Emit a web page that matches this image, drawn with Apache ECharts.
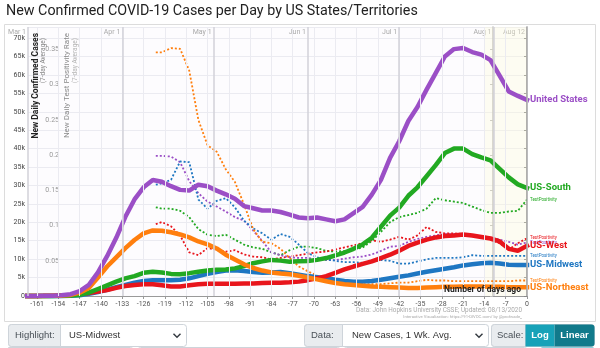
<!DOCTYPE html>
<html><head><meta charset="utf-8">
<script src="https://cdn.jsdelivr.net/npm/echarts@6/dist/echarts.min.js"></script>
<style>html,body{margin:0;padding:0;background:#fff;}#c{width:600px;height:348px;}</style>
</head><body><div id="c"></div>
<script>
// ---- data (days relative to Aug 12, 2020; cases in thousands) ----
const days = [-165,-162,-159,-156,-153,-150,-147,-144,-141,-138,-135,-132,-129,-126,-123,-120,-117,-114,-111,-108,-105,-102,-99,-96,-93,-90,-87,-84,-81,-78,-75,-72,-69,-66,-63,-60,-57,-54,-51,-48,-45,-42,-39,-36,-33,-30,-27,-24,-21,-18,-15,-12,-9,-6,-3,0];
const usCases = [0,0,0.05,0.1,0.2,0.5,1.3,3.0,6.4,10.8,15.8,21.5,26.2,29.5,31.5,31.0,29.8,28.8,28.6,30.2,29.8,28.6,27.6,26.4,24.4,23.8,23.2,23.2,22.8,22.1,21.3,21.1,21.3,20.8,20.3,20.8,22.5,24.2,27.5,31.5,37.5,42,47.5,51.3,56,60.5,65,67,67.3,66.2,65.5,64,59.8,55.5,54.3,53.2];
const southCases = [0,0,0,0,0.05,0.1,0.3,0.9,1.9,2.9,3.9,4.8,5.4,6.3,6.6,6.4,6.0,5.9,6.2,6.6,6.9,7.1,7.2,7.5,8.1,8.9,9.4,9.8,9.6,9.3,9.4,9.5,9.8,10.3,11.0,11.8,12.8,14.0,15.8,18.8,21.8,24.0,27.2,29.5,32.5,35.5,38.8,40.0,40.0,38.5,37.6,36.8,34.5,32.2,30.3,29.3];
const westCases = [0,0.02,0.05,0.1,0.2,0.3,0.5,0.8,1.2,1.6,2.2,2.7,3.0,3.2,3.2,2.9,2.6,2.6,2.9,3.2,3.3,3.3,3.3,3.3,3.4,3.4,3.5,3.6,3.6,3.7,3.9,4.3,4.8,5.4,6.3,7.2,8.0,8.7,9.4,10.3,11.2,12.3,13.6,14.5,15.3,15.9,16.3,16.4,16.7,16.4,16.0,15.6,14.8,12.8,12.3,13.6];
const midwestCases = [0,0,0,0,0,0.05,0.2,0.6,1.1,1.7,2.4,3.0,3.6,4.1,4.3,4.3,4.3,4.4,4.8,5.4,6.0,6.5,6.9,7.0,6.8,6.5,6.3,6.4,6.5,6.2,5.8,5.4,5.1,4.8,4.4,4.1,3.9,3.9,4.1,4.4,4.8,5.2,5.6,6.1,6.6,7.0,7.4,7.8,8.3,8.6,8.9,9.0,8.8,8.5,8.4,8.4];
const neCases = [0,0,0.02,0.05,0.1,0.3,0.9,2.2,5.0,8.0,10.5,13.0,15.2,17.0,17.8,17.7,17.3,16.7,15.9,14.8,14.0,12.9,11.2,9.9,8.6,7.6,6.9,6.4,6.1,5.9,5.5,5.0,4.5,4.0,3.5,3.2,3.0,2.8,2.6,2.5,2.4,2.3,2.2,2.2,2.3,2.4,2.5,2.5,2.6,2.6,2.6,2.5,2.5,2.4,2.4,2.4];

const posDays = [-122,-120,-117,-114,-111,-108,-105,-102,-99,-96,-93,-90,-87,-84,-81,-78,-75,-72,-69,-66,-63,-60,-57,-54,-51,-48,-45,-42,-39,-36,-33,-30,-27,-24,-21,-18,-15,-12,-9,-6,-3,0];
const usPos = [0.199,0.199,0.198,0.19,0.163,0.146,0.134,0.127,0.12,0.112,0.107,0.093,0.078,0.062,0.058,0.055,0.054,0.054,0.052,0.051,0.051,0.053,0.055,0.056,0.059,0.064,0.07,0.071,0.077,0.081,0.084,0.086,0.088,0.088,0.087,0.086,0.085,0.083,0.08,0.077,0.073,0.076];
const southPos = [0.126,0.124,0.124,0.121,0.112,0.095,0.087,0.085,0.087,0.08,0.073,0.069,0.067,0.062,0.058,0.065,0.07,0.07,0.068,0.064,0.063,0.064,0.066,0.069,0.078,0.091,0.105,0.112,0.115,0.118,0.124,0.139,0.136,0.134,0.132,0.127,0.122,0.118,0.118,0.12,0.121,0.137];
const midwestPos = [0.158,0.16,0.165,0.191,0.19,0.137,0.124,0.135,0.139,0.126,0.107,0.096,0.089,0.08,0.088,0.084,0.073,0.061,0.055,0.052,0.05,0.048,0.048,0.047,0.049,0.051,0.05,0.046,0.046,0.049,0.052,0.054,0.054,0.054,0.055,0.058,0.057,0.057,0.057,0.057,0.057,0.057];
const westPos = [0.102,0.105,0.099,0.086,0.062,0.058,0.068,0.066,0.063,0.065,0.059,0.056,0.055,0.052,0.054,0.056,0.058,0.06,0.062,0.063,0.066,0.069,0.072,0.075,0.079,0.077,0.08,0.084,0.08,0.086,0.098,0.091,0.089,0.089,0.088,0.086,0.084,0.08,0.075,0.066,0.075,0.082];
const nePos = [0.346,0.346,0.352,0.351,0.32,0.25,0.214,0.205,0.18,0.162,0.13,0.095,0.077,0.075,0.067,0.054,0.042,0.035,0.029,0.026,0.022,0.019,0.018,0.017,0.017,0.017,0.018,0.019,0.019,0.021,0.023,0.022,0.022,0.021,0.021,0.021,0.021,0.021,0.021,0.021,0.022,0.022];

const xTicks = [-161,-154,-147,-140,-133,-126,-119,-112,-105,-98,-91,-84,-77,-70,-63,-56,-49,-42,-35,-28,-21,-14,-7,0];
const monthDays = [-164,-133,-103,-72,-42,-11,0];
const monthNames = ['Mar 1','Apr 1','May 1','Jun 1','Jul 1','Aug 1','Aug 12'];

// ---- chart ----
const FONT = 'Roboto, "Open Sans", sans-serif';
const chart = echarts.init(document.getElementById('c'), null, {renderer: 'canvas'});
const C = {us:'#9b4fc6', south:'#22a922', west:'#e8151c', midwest:'#1f77c2', ne:'#ff7f0e'};

function caseSeries(name, vals, color) {
  return {
    name: name, type: 'line', xAxisIndex: 0, yAxisIndex: 0, z: 4, clip: false,
    data: days.map((d, i) => [d, vals[i]]),
    showSymbol: false, symbol: 'none',
    lineStyle: {color: color, width: 4.5, cap: 'square', join: 'bevel'},
    itemStyle: {color: color},
    endLabel: {show: true, formatter: name, color: color, fontSize: 9.5, fontWeight: 'bold', fontFamily: FONT, distance: 3}
  };
}
function posSeries(name, vals, color) {
  return {
    name: name + ' TP', type: 'line', xAxisIndex: 0, yAxisIndex: 1, z: 3,
    data: posDays.map((d, i) => [d, vals[i]]),
    showSymbol: false, symbol: 'none',
    lineStyle: {color: color, width: 1.8, type: [2, 2]},
    itemStyle: {color: color},
    endLabel: {show: true, formatter: 'TestPositivity', color: color, fontSize: 4.5, fontFamily: FONT, distance: 3}
  };
}

function rect(x, y, w, h, fill, stroke, r) {
  return {type: 'rect', z: 100, shape: {x: x, y: y, width: w, height: h, r: r || 0}, style: {fill: fill, stroke: stroke || null, lineWidth: 1}};
}
function txt(x, y, text, size, fill, opts) {
  return Object.assign({type: 'text', z: 101, x: x, y: y,
    style: Object.assign({text: text, fontSize: size, fill: fill, fontFamily: FONT, verticalAlign: 'middle', align: 'left'}, (opts && opts.style) || {})},
    (opts && opts.el) || {});
}
function chevron(cx, cy) {
  return {type: 'polyline', z: 101, shape: {points: [[cx - 3.5, cy - 1.8], [cx, cy + 1.8], [cx + 3.5, cy - 1.8]]}, style: {stroke: '#343a40', lineWidth: 1.4, fill: null}};
}
const CF = '"Liberation Sans", Arial, sans-serif';

const graphics = [
  {type: 'rect', z: -10, shape: {x: 4.5, y: 24.5, width: 591, height: 297}, style: {fill: null, stroke: '#dcdcdc', lineWidth: 1}},
  txt(6, 11.5, 'New Confirmed COVID-19 Cases per Day by US States/Territories', 14.3, '#222'),
  // axis titles (rotated)
  {type: 'text', z: 101, x: 31, y: 33, rotation: Math.PI / 2, style: {text: 'New Daily Confirmed Cases', fontSize: 8.5, fontWeight: 'bold', fill: '#222', fontFamily: FONT, align: 'right', verticalAlign: 'top'}},
  {type: 'text', z: 101, x: 40, y: 38, rotation: Math.PI / 2, style: {text: '(7-day Average)', fontSize: 6.5, fill: '#888', fontFamily: FONT, align: 'right', verticalAlign: 'top'}},
  {type: 'text', z: 101, x: 63, y: 33, rotation: Math.PI / 2, style: {text: 'New Daily Test Positivity Rate', fontSize: 8, fill: '#8a8a8a', fontFamily: FONT, align: 'right', verticalAlign: 'top'}},
  {type: 'text', z: 101, x: 72, y: 38, rotation: Math.PI / 2, style: {text: '(7-day Average)', fontSize: 6.5, fill: '#b5b5b5', fontFamily: FONT, align: 'right', verticalAlign: 'top'}},
  txt(521, 290, 'Number of days ago', 8.5, '#222', {style: {align: 'right', fontWeight: 'bold'}}),
  txt(522, 310, 'Data: John Hopkins University CSSE; Updated: 08/13/2020', 6.4, '#aaa', {style: {align: 'right'}}),
  txt(522, 316.5, 'Interactive Visualization: https://91-DIVOC.com/ by @profwade_', 4.2, '#aaa', {style: {align: 'right'}}),
  // controls row
  rect(8.5, 324.5, 178, 22, '#fff', '#ced4da', 3),
  rect(8.5, 324.5, 52, 22, '#e9ecef', '#ced4da', [3, 0, 0, 3]),
  txt(15, 335.5, 'Highlight:', 9.5, '#495057', {style: {fontFamily: CF}}),
  txt(69, 335.5, 'US-Midwest', 9.5, '#333', {style: {fontFamily: CF}}),
  chevron(177, 335.5),
  rect(304.5, 324.5, 184, 22, '#fff', '#ced4da', 3),
  rect(304.5, 324.5, 38, 22, '#e9ecef', '#ced4da', [3, 0, 0, 3]),
  txt(311, 335.5, 'Data:', 9.5, '#495057', {style: {fontFamily: CF}}),
  txt(352, 335.5, 'New Cases, 1 Wk. Avg.', 9.5, '#333', {style: {fontFamily: CF}}),
  chevron(479, 335.5),
  rect(491.5, 324.5, 103, 22, '#fff', '#ced4da', 3),
  rect(491.5, 324.5, 34, 22, '#e9ecef', '#ced4da', [3, 0, 0, 3]),
  txt(497, 335.5, 'Scale:', 9.5, '#495057', {style: {fontFamily: CF}}),
  rect(525.5, 324.5, 29, 22, '#17a2b8', null, 0),
  rect(554.5, 324.5, 40, 22, '#117a8b', null, [0, 3, 3, 0]),
  txt(540, 335.5, 'Log', 9.5, '#fff', {style: {fontFamily: CF, align: 'center', fontWeight: 'bold'}}),
  txt(574.5, 335.5, 'Linear', 9.5, '#fff', {style: {fontFamily: CF, align: 'center', fontWeight: 'bold'}}),
  // next row (partially visible)
  rect(8.5, 347.5, 125, 12, '#fff', '#ced4da', 3),
  rect(8.5, 347.5, 38, 12, '#e9ecef', '#ced4da', 0),
  rect(137.5, 347.5, 203, 12, '#fff', '#ced4da', 3),
  rect(343.5, 347.5, 184, 12, '#fff', '#ced4da', 3),
  rect(539.5, 347.5, 56, 12, '#17a2b8', null, 3)
];

const option = {
  animation: false,
  backgroundColor: '#fff',
  textStyle: {fontFamily: FONT},
  grid: {left: 28, right: 73, top: 27, bottom: 52, show: true, backgroundColor: '#fdfcfe', borderWidth: 0},
  xAxis: [
    {type: 'value', min: -164, max: 0, position: 'bottom',
     axisLine: {show: true, onZero: false, lineStyle: {color: '#999'}},
     axisTick: {show: true, customValues: xTicks, length: 3, lineStyle: {color: '#999'}},
     axisLabel: {customValues: xTicks, fontSize: 7, color: '#555', margin: 5},
     splitLine: {show: false}},
    {type: 'value', min: -164, max: 0, position: 'top',
     axisLine: {show: false}, axisTick: {show: false}, splitLine: {show: false},
     axisLabel: {inside: true, customValues: monthDays, formatter: v => monthNames[monthDays.indexOf(v)],
                 fontSize: 7, color: '#aaa', align: 'right', margin: 2, padding: [0, 2, 0, 0]}}
  ],
  yAxis: [
    {type: 'value', min: 0, max: 73, interval: 5, position: 'left',
     axisLine: {show: true, lineStyle: {color: '#888', width: 1.5}},
     axisTick: {show: true, length: 3, lineStyle: {color: '#888'}},
     axisLabel: {fontSize: 7, color: '#444', showMaxLabel: false, margin: 3, formatter: v => v === 0 ? '0' : v + 'k'},
     splitLine: {show: true, lineStyle: {color: '#ebebf1', width: 1}}},
    {type: 'value', min: 0, max: 0.382, interval: 0.05, position: 'left', offset: -34,
     axisLine: {show: true, lineStyle: {color: '#b8b8b8', width: 1.5}},
     axisTick: {show: true, length: 3, lineStyle: {color: '#bbb'}},
     axisLabel: {fontSize: 7, color: '#999', showMaxLabel: false, margin: 3, formatter: v => String(+v.toFixed(2))},
     splitLine: {show: false}}
  ],
  series: [
    {type: 'line', name: 'weekGrid', z: 1, silent: true, data: [[0, null]], symbol: 'none',
     markLine: {silent: true, symbol: 'none', label: {show: false}, animation: false,
       lineStyle: {color: '#ebebf1', width: 1, type: 'solid'}, data: xTicks.map(d => ({xAxis: d}))}},
    {type: 'line', name: 'shade', z: 1, silent: true, data: [[0, null]], symbol: 'none',
     markArea: {silent: true, itemStyle: {color: 'rgba(255,252,215,0.3)'}, data: [[{xAxis: -14}, {xAxis: 0}]]}},
    {type: 'line', name: 'monthGrid', z: 2, silent: true, data: [[0, null]], symbol: 'none',
     markLine: {silent: true, symbol: 'none', label: {show: false}, animation: false,
       lineStyle: {color: '#d2d2d8', width: 1.5, type: 'solid'},
       data: monthDays.map(d => ({xAxis: d, lineStyle: d === 0 ? {color: '#aaa', width: 1.5, type: 'solid'} : undefined}))}},
    posSeries('US-South', southPos, C.south),
    posSeries('US-West', westPos, C.west),
    posSeries('United States', usPos, C.us),
    posSeries('US-Midwest', midwestPos, C.midwest),
    posSeries('US-Northeast', nePos, C.ne),
    caseSeries('US-Midwest', midwestCases, C.midwest),
    caseSeries('US-West', westCases, C.west),
    caseSeries('US-South', southCases, C.south),
    caseSeries('US-Northeast', neCases, C.ne),
    caseSeries('United States', usCases, C.us)
  ],
  graphic: graphics
};
chart.setOption(option);
</script></body></html>
